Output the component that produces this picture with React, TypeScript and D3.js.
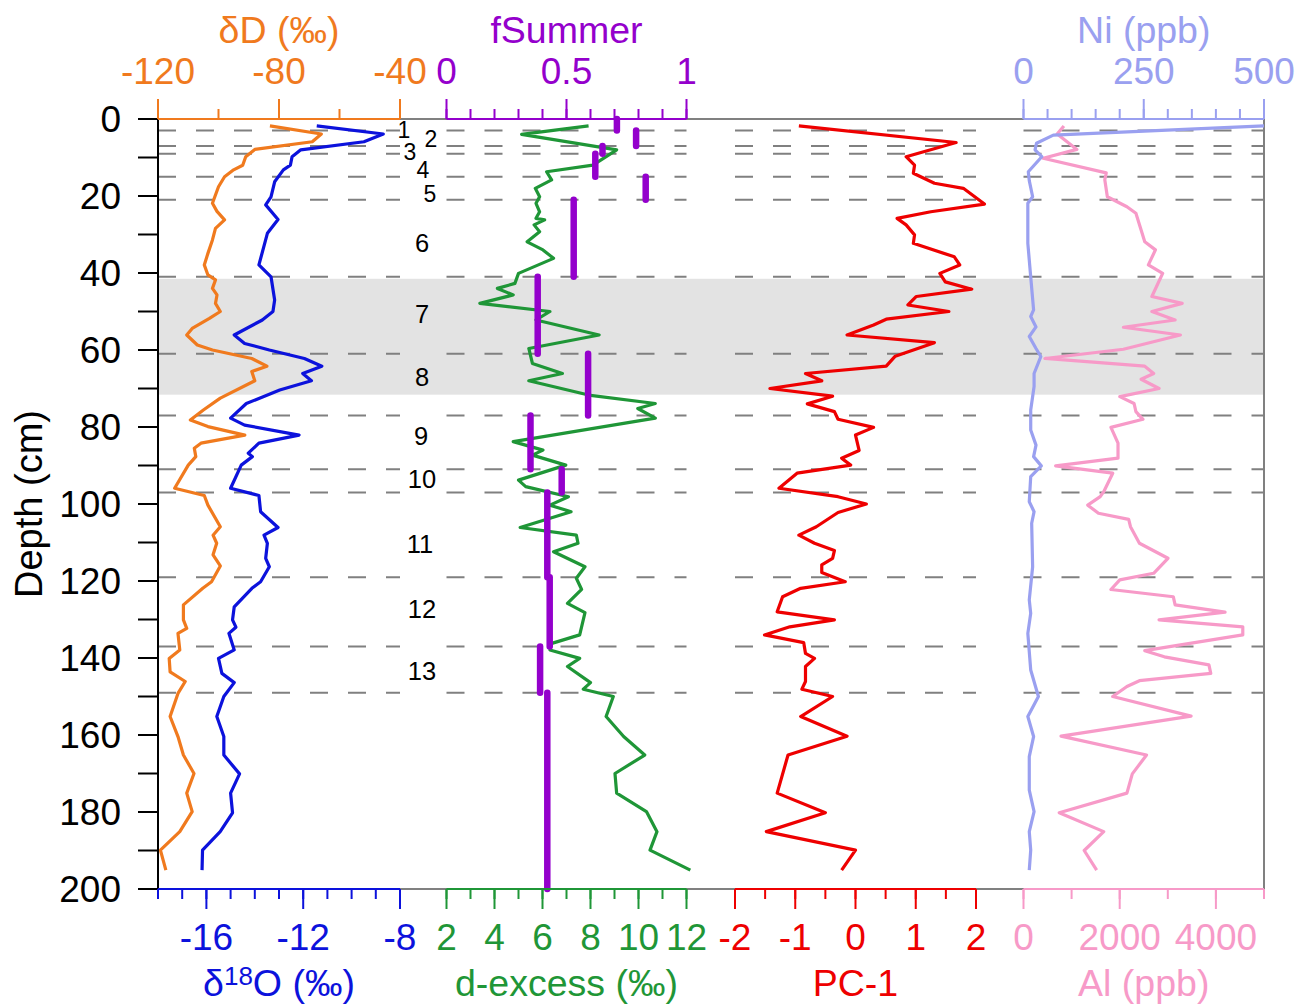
import * as d3 from 'd3'

const FONT = '"Liberation Sans", Arial, Helvetica, sans-serif'

// [depth (cm), value]
const dD: [number, number][] = [
  [1.8, -83], [3.9, -66], [5.9, -69], [7.9, -88], [9.8, -91], [12, -92], [13.2, -95], [15, -98],
  [17.6, -100], [21.9, -102], [24, -100.5], [26.2, -98], [28.4, -101], [31.4, -102], [34.9, -103.5],
  [37.9, -104.7], [40.5, -103.5], [41.8, -101], [44, -102], [45.7, -100.5], [47.9, -101], [50, -99.4],
  [51.8, -103], [54.4, -108.7], [56.1, -110.5], [58.7, -107], [60, -102], [62.2, -89], [64.2, -84],
  [65.6, -89], [68, -88], [72.5, -99.4], [75.6, -105], [78.2, -109.3], [79.9, -103.5], [82.1, -91.3],
  [84.2, -105.8], [85.5, -108], [87.7, -107.5], [89.9, -110], [95.9, -114.5], [97.8, -104.7],
  [100.3, -103.5], [105.9, -99.4], [108.1, -101.8], [110.2, -100.6], [113.2, -101.8], [116.1, -99.4],
  [120.2, -102.3], [121.9, -105.2], [126.2, -111.6], [130.1, -111.6], [132.3, -110.5], [133.6, -113.4],
  [137.9, -112.8], [140.1, -116.3], [143.6, -116], [146.1, -111], [149.2, -113.4], [155.2, -116],
  [160.4, -113.4], [165.2, -111.6], [170, -108.1], [175.1, -110.5], [179.9, -108.7], [185.1, -112.8],
  [189.9, -119.2], [195.1, -117.4]
]

const d18O: [number, number][] = [
  [1.8, -11.44], [3.9, -8.69], [5.9, -9.49], [8, -12.1], [9.8, -12.46], [12, -12.53], [13.2, -12.82],
  [16.3, -13.18], [20.2, -13.33], [22.3, -13.55], [26.1, -13.04], [29.7, -13.48], [37.9, -13.83],
  [41, -13.33], [47, -13.18], [50, -13.25], [52.2, -13.69], [56.1, -14.85], [58.3, -14.42], [60, -13.4],
  [62.2, -11.95], [64.2, -11.23], [66.1, -12.02], [68, -11.66], [70.4, -12.97], [73.9, -14.35],
  [77.7, -15.0], [79.5, -14.42], [82.1, -12.17], [84.2, -13.83], [86.8, -14.27], [87.7, -14.1],
  [89.9, -14.56], [95.9, -15.0], [97.8, -13.83], [102, -13.76], [106.1, -13.04], [108.1, -13.62],
  [110.2, -13.48], [114.1, -13.55], [116.3, -13.4], [120.2, -13.76], [121.9, -14.12], [126.7, -14.85],
  [130.1, -14.92], [132, -14.78], [133.6, -15.07], [137.9, -14.85], [140.1, -15.5], [144, -15.36],
  [146.4, -14.85], [150, -15.28], [155.2, -15.57], [160.4, -15.28], [165.2, -15.28], [170.1, -14.63],
  [175.1, -15.0], [180.2, -14.92], [185.1, -15.43], [189.9, -16.16], [195.1, -16.18]
]

const dExcess: [number, number][] = [
  [1.8, 7.92], [4, 5.13], [8, 9.09], [12, 8.1], [13.7, 6.17], [15.8, 6.38], [18, 5.7], [20.2, 5.88],
  [21.9, 5.73], [24.1, 5.88], [25.8, 5.73], [26.2, 6.09], [27.5, 5.65], [29.3, 5.88], [31.9, 5.36],
  [34, 6.02], [36.2, 6.46], [40.1, 5.0], [42.7, 4.85], [44, 4.12], [45.7, 4.78], [47.9, 3.39], [50, 6.31],
  [52.2, 5.73], [56.1, 8.36], [59.6, 5.43], [63.5, 5.58], [66.1, 6.83], [68, 5.43], [71.7, 7.92],
  [73.9, 10.7], [75.2, 9.97], [77.7, 10.7], [83.8, 4.78], [86, 6.02], [87.3, 5.58], [89.9, 6.97],
  [93.8, 5.0], [95.5, 5.3], [98.1, 7.08], [100.3, 6.31], [102, 7.19], [106.1, 5.07], [108.1, 7.41],
  [110.2, 7.48], [112.4, 6.46], [116.3, 7.77], [119.3, 7.41], [122.2, 7.63], [125.8, 7.04], [128.2, 7.77],
  [134, 7.55], [136.2, 6.39], [137.9, 6.31], [140.1, 7.55], [142.2, 7.04], [146.4, 8.0], [148.1, 7.7],
  [150, 8.95], [155.2, 8.65], [160.4, 9.38], [165.2, 10.26], [170, 9.02], [175.1, 9.09], [179.9, 10.33],
  [185.1, 10.77], [189.9, 10.48], [195.1, 12.16]
]

const pc1: [number, number][] = [
  [1.8, -0.94], [6.1, 1.67], [9.8, 0.84], [12, 0.98], [14.1, 0.96], [16.7, 1.31], [18, 1.79], [22.1, 2.14],
  [24.1, 1.25], [25.8, 0.69], [27.5, 0.84], [30.1, 0.98], [32.3, 0.96], [35.8, 1.64], [37.9, 1.73],
  [40.1, 1.4], [42.3, 1.49], [44.2, 1.93], [46.1, 1.01], [48.3, 0.87], [50, 1.55], [52, 0.51], [53.5, 0.3],
  [56.1, -0.14], [58.1, 1.31], [61.6, 0.66], [64.2, 0.51], [66.1, -0.83], [68, -0.56], [70, -1.42],
  [72, -0.38], [74, -0.8], [76, -0.35], [78, -0.29], [80.1, 0.3], [82.1, 0.0], [86.1, 0.06], [88.1, -0.23],
  [89.9, -0.08], [92, -0.97], [95.9, -1.27], [98.1, -0.29], [100, 0.18], [102.2, -0.29], [105.9, -0.65],
  [108.1, -0.94], [110.2, -0.68], [112.1, -0.35], [114.1, -0.38], [115.8, -0.56], [117.8, -0.56],
  [120.2, -0.17], [121.9, -0.91], [124.1, -1.21], [128, -1.3], [130.1, -0.35], [131.9, -1.09],
  [134, -1.51], [136, -0.86], [138.8, -0.83], [140.1, -0.68], [142.2, -0.83], [146.1, -0.83],
  [148.1, -0.89], [150, -0.38], [155.2, -0.91], [160.3, -0.14], [165.2, -1.12], [175.1, -1.3],
  [180.2, -0.5], [185.1, -1.48], [189.9, 0.0], [195.1, -0.23]
]

const ni: [number, number][] = [
  [1.8, 500], [4.2, 62], [6.3, 27], [8, 24], [9.8, 38], [13.7, 10], [16, 12], [20.2, 19], [21.9, 9],
  [32.3, 9], [41, 15], [49.6, 21], [51.3, 15], [54, 26], [56.5, 12], [59.6, 26], [61.7, 36], [66.1, 22],
  [69.5, 22], [75.6, 15], [80.8, 15], [84.7, 26], [87.7, 21], [90.1, 37], [92.9, 15], [99.4, 12],
  [102, 22], [105, 17], [116.3, 19], [124.9, 12], [128.4, 15], [133.6, 9], [143.1, 15], [150, 31],
  [155.2, 9], [160.4, 21], [165.6, 12], [174.3, 12], [179.9, 22], [185.1, 12], [189.9, 15], [195.1, 12]
]

const al: [number, number][] = [
  [1.8, 840], [3.9, 700], [7.9, 1110], [10.2, 409], [14, 1720], [15.8, 1690], [20.2, 1743], [22.8, 2150],
  [24.5, 2337], [31.9, 2521], [34, 2743], [37.9, 2596], [40.1, 2893], [46.1, 2669], [47.9, 3299],
  [50, 2669], [52.2, 3152], [54.1, 2077], [56.1, 3262], [59.8, 2077], [62.2, 446], [64.2, 2521],
  [66.1, 2706], [67.6, 2446], [70, 2818], [72.1, 2002], [73.9, 2299], [76, 2337], [78, 2484],
  [80.1, 1818], [84.2, 1965], [88.1, 1965], [90.1, 668], [92, 1855], [96.8, 1668], [98.1, 1595],
  [100.3, 1336], [102.4, 1558], [104, 2187], [105.9, 2224], [110.2, 2410], [114.1, 3003], [118, 2706],
  [119.7, 2002], [122.2, 1818], [124.1, 3115], [126.2, 3152], [128.1, 4190], [130.1, 2818],
  [131.9, 4559], [134, 4559], [138.1, 2521], [139.7, 2928], [141.8, 3855], [144, 3893], [145.9, 2410],
  [147.4, 2150], [150, 1855], [155.1, 3484], [160.3, 780], [165.2, 2558], [170.1, 2262], [175.1, 2150],
  [180.2, 743], [185.1, 1668], [190, 1262], [195.1, 1521]
]

// fSummer per unit: unit boundaries (cm) and value
const unitBounds = [0, 3, 7, 9, 15, 21, 41, 61, 77, 91, 97, 119, 137, 149, 200]
const fSummer = [0.71, 0.79, 0.65, 0.62, 0.83, 0.53, 0.38, 0.59, 0.35, 0.48, 0.42, 0.43, 0.39, 0.42]
const unitNames = ['1', '2', '3', '4', '5', '6', '7', '8', '9', '10', '11', '12', '13']
const unitLabelDepth = [4.9, 7.3, 10.6, 15.3, 21.6, 34.5, 53, 69.4, 84.7, 95.8, 112.7, 129.6, 145.7]
const unitLabelShift = [-18, 9, -12, 1, 8, 0, 0, 0, -1, 0, -2, 0, 0]

const shadeBand = [41.5, 71.6]
const depthLabels = d3.range(0, 201, 20)

const C = {
  dD: '#f07a1e',
  d18O: '#0c12dc',
  fs: '#9400cc',
  dex: '#1f9637',
  pc: '#ee0000',
  ni: '#9aa0f0',
  al: '#f79ac8',
  grid: '#808080',
  shade: '#e3e3e3'
}

const TICK_FS = 37
const TITLE_FS = 37.5

type Scale = d3.ScaleLinear<number, number>

function HAxis({ scale, y, dir, majors, minors, color, labelY, title, titleY }: {
  scale: Scale; y: number; dir: number; majors: number[]; minors: number[]; color: string;
  labelY: number; title: React.ReactNode; titleY: number
}) {
  const [r0, r1] = scale.range()
  return (
    <g>
      <line x1={r0} x2={r1} y1={y} y2={y} stroke={color} strokeWidth={2} />
      {minors.map(v => (
        <line key={'m' + v} x1={scale(v)} x2={scale(v)} y1={y} y2={y + dir * 10} stroke={color} strokeWidth={2} />
      ))}
      {majors.map(v => (
        <line key={'M' + v} x1={scale(v)} x2={scale(v)} y1={y} y2={y + dir * 20} stroke={color} strokeWidth={2} />
      ))}
      {majors.map(v => (
        <text key={'t' + v} x={scale(v)} y={labelY} textAnchor="middle" fill={color} fontSize={TICK_FS}>{String(v)}</text>
      ))}
      <text x={(r0 + r1) / 2} y={titleY} textAnchor="middle" fill={color} fontSize={TITLE_FS}>{title}</text>
    </g>
  )
}

export default function App() {
  const W = 1300
  const H = 1004
  const y = d3.scaleLinear().domain([0, 200]).range([119, 889])
  const p1: [number, number] = [158, 400]
  const p2: [number, number] = [446.5, 686.5]
  const p3: [number, number] = [735, 976]
  const p4: [number, number] = [1023.5, 1264]

  const xdD = d3.scaleLinear().domain([-120, -40]).range(p1)
  const xO = d3.scaleLinear().domain([-18, -8]).range(p1)
  const xfs = d3.scaleLinear().domain([0, 1]).range(p2)
  const xdex = d3.scaleLinear().domain([2, 12]).range(p2)
  const xpc = d3.scaleLinear().domain([-2, 2]).range(p3)
  const xni = d3.scaleLinear().domain([0, 500]).range(p4)
  const xal = d3.scaleLinear().domain([0, 5000]).range(p4)

  const path = (data: [number, number][], xs: Scale) =>
    d3.line<[number, number]>().x(d => xs(d[1])).y(d => y(d[0]))(data) || ''

  const boundaries = unitBounds.slice(1, -1)
  const panels = [p1, p2, p3, p4]

  return (
    <div style={{ position: 'absolute', left: 0, top: 0, background: '#fff' }}>
      <svg width={W} height={H} style={{ display: 'block', fontFamily: FONT }}>
        <rect x={0} y={0} width={W} height={H} fill="#fff" />
        {/* shaded interval */}
        <rect x={p1[0]} y={y(shadeBand[0])} width={p4[1] - p1[0]} height={y(shadeBand[1]) - y(shadeBand[0])} fill={C.shade} />

        {/* unit boundaries */}
        {boundaries.map(b => panels.map((p, i) => (
          <line key={b + '-' + i} x1={p[0]} x2={p[1]} y1={y(b)} y2={y(b)}
            stroke={C.grid} strokeWidth={2} strokeDasharray="18 20" />
        )))}

        {/* unit labels */}
        {unitNames.map((n, i) => (
          <text key={n} x={422 + unitLabelShift[i]} y={y(unitLabelDepth[i])} textAnchor="middle"
            fontSize={i < 5 ? 23 : 25.5} fill="#000">{n}</text>
        ))}

        {/* frame */}
        <line x1={p1[0]} x2={p4[1]} y1={y(0)} y2={y(0)} stroke={C.grid} strokeWidth={2} />
        <line x1={p1[0]} x2={p4[1]} y1={y(200)} y2={y(200)} stroke={C.grid} strokeWidth={2} />
        <line x1={p4[1]} x2={p4[1]} y1={y(0)} y2={y(200)} stroke={C.grid} strokeWidth={2} />

        {/* series */}
        <g fill="none" strokeWidth={3.2} strokeLinejoin="round">
          <path d={path(dD, xdD)} stroke={C.dD} />
          <path d={path(d18O, xO)} stroke={C.d18O} />
          <path d={path(dExcess, xdex)} stroke={C.dex} />
          <path d={path(pc1, xpc)} stroke={C.pc} />
          <path d={path(al, xal)} stroke={C.al} />
          <path d={path(ni, xni)} stroke={C.ni} />
        </g>

        {/* fSummer per unit */}
        {fSummer.map((v, i) => (
          <line key={'fs' + i} x1={xfs(v)} x2={xfs(v)} y1={y(unitBounds[i])} y2={y(unitBounds[i + 1])}
            stroke={C.fs} strokeWidth={6.5} strokeLinecap="round" />
        ))}

        {/* depth axis */}
        <line x1={p1[0]} x2={p1[0]} y1={y(0)} y2={y(200)} stroke="#000" strokeWidth={2} />
        {d3.range(0, 201, 10).map(d => (
          <line key={'yt' + d} x1={p1[0] - 20} x2={p1[0]} y1={y(d)} y2={y(d)} stroke="#000" strokeWidth={2} />
        ))}
        {depthLabels.map(d => (
          <text key={'yl' + d} x={121} y={y(d) + 13} textAnchor="end" fontSize={TICK_FS} fill="#000">{d}</text>
        ))}
        <text transform={`translate(42, ${y(100)}) rotate(-90)`} textAnchor="middle" fontSize={38} fill="#000">Depth (cm)</text>

        {/* top axes */}
        <HAxis scale={xdD} y={y(0)} dir={-1} majors={[-120, -80, -40]} minors={d3.range(-120, -39, 20)}
          color={C.dD} labelY={84} title="δD (‰)" titleY={43} />
        <HAxis scale={xfs} y={y(0)} dir={-1} majors={[0, 0.5, 1]} minors={d3.range(0, 10.5, 1).map(v => v / 10)}
          color={C.fs} labelY={84} title="fSummer" titleY={43} />
        <HAxis scale={xni} y={y(0)} dir={-1} majors={[0, 250, 500]} minors={d3.range(0, 501, 50)}
          color={C.ni} labelY={84} title="Ni (ppb)" titleY={43} />

        {/* bottom axes */}
        <HAxis scale={xO} y={y(200)} dir={1} majors={[-16, -12, -8]} minors={d3.range(-18, -7.5, 1)}
          color={C.d18O} labelY={950} titleY={996}
          title={<>δ<tspan fontSize={26} dy={-11}>18</tspan><tspan dy={11}>O (‰)</tspan></>} />
        <HAxis scale={xdex} y={y(200)} dir={1} majors={[2, 4, 6, 8, 10, 12]} minors={d3.range(2, 12.5, 1)}
          color={C.dex} labelY={950} title="d-excess (‰)" titleY={996} />
        <HAxis scale={xpc} y={y(200)} dir={1} majors={[-2, -1, 0, 1, 2]} minors={d3.range(-2, 2.25, 0.5)}
          color={C.pc} labelY={950} title="PC-1" titleY={996} />
        <HAxis scale={xal} y={y(200)} dir={1} majors={[0, 2000, 4000]} minors={d3.range(0, 5001, 1000)}
          color={C.al} labelY={950} title="Al (ppb)" titleY={996} />
      </svg>
    </div>
  )
}
